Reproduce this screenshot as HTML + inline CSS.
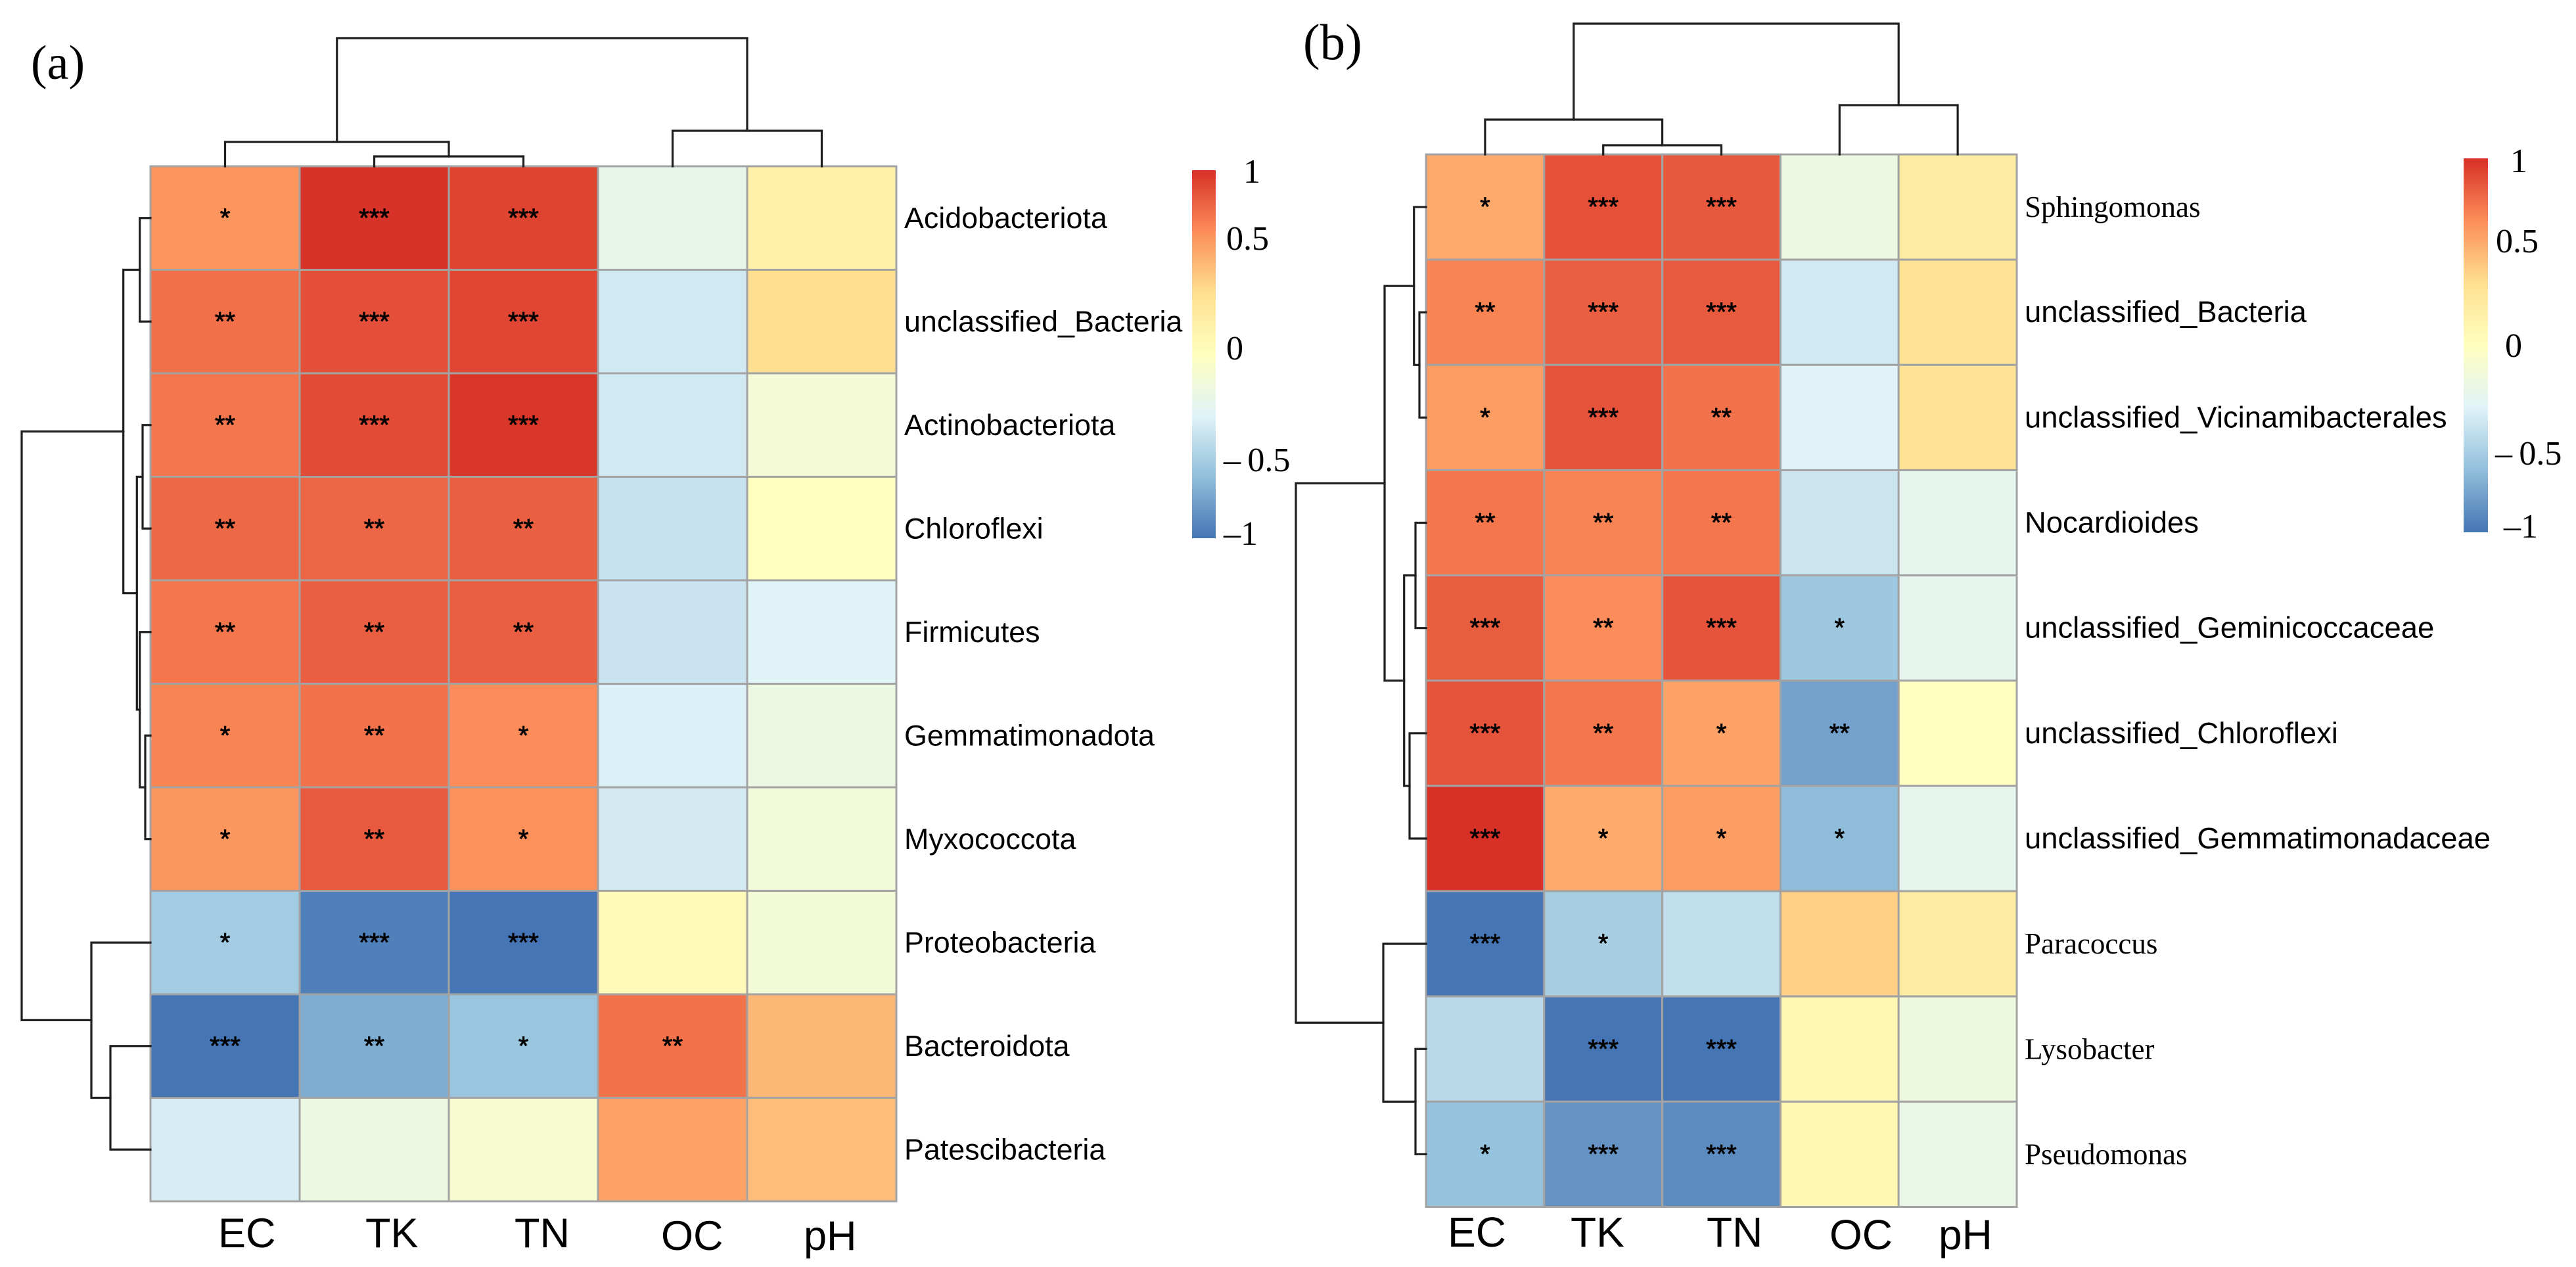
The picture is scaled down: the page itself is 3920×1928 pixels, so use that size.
<!DOCTYPE html>
<html lang="en">
<head>
<meta charset="utf-8">
<title>Correlation heatmaps (a) and (b)</title>
<style>
html,body{margin:0;padding:0;background:#fff;}
svg{display:block;}
text{fill:#000;}
.sans{font-family:"Liberation Sans",sans-serif;}
.serif{font-family:"Liberation Serif",serif;}
</style>
</head>
<body>
<svg id="figure" xmlns="http://www.w3.org/2000/svg" width="3920" height="1928" viewBox="0 0 3920 1928">
  <rect x="0" y="0" width="3920" height="1928" fill="#ffffff"/>
  <defs>
    <linearGradient id="legend-gradient" x1="0" y1="0" x2="0" y2="1"></linearGradient>
  </defs>
  <text class="serif" x="47" y="120" font-size="74">(a)</text>
  <text class="serif" x="1983" y="90" font-size="77">(b)</text>
</svg>
<script>
// ---------- Data ----------
const columnsA = ["EC", "TK", "TN", "OC", "pH"];
const rowsA = ["Acidobacteriota", "unclassified_Bacteria", "Actinobacteriota", "Chloroflexi", "Firmicutes", "Gemmatimonadota", "Myxococcota", "Proteobacteria", "Bacteroidota", "Patescibacteria"];
const valuesA = [
  [0.64, 0.99, 0.93, -0.25, 0.16],
  [0.77, 0.89, 0.92, -0.40, 0.33],
  [0.75, 0.90, 0.98, -0.40, -0.13],
  [0.80, 0.81, 0.83, -0.44, 0.00],
  [0.75, 0.83, 0.83, -0.43, -0.33],
  [0.70, 0.76, 0.67, -0.35, -0.20],
  [0.63, 0.85, 0.65, -0.39, -0.15],
  [-0.59, -0.95, -1.00, 0.05, -0.14],
  [-1.00, -0.75, -0.63, 0.76, 0.50],
  [-0.37, -0.20, -0.10, 0.58, 0.47]
];
const starsA = [
  [1, 3, 3, 0, 0],
  [2, 3, 3, 0, 0],
  [2, 3, 3, 0, 0],
  [2, 2, 2, 0, 0],
  [2, 2, 2, 0, 0],
  [1, 2, 1, 0, 0],
  [1, 2, 1, 0, 0],
  [1, 3, 3, 0, 0],
  [3, 2, 1, 2, 0],
  [0, 0, 0, 0, 0]
];
// hclust-style merges: negative = leaf number, positive = earlier merge number
const rowMergesA = [[-1, -2], [-3, -4], [-6, -7], [-5, 3], [2, 4], [1, 5], [-9, -10], [-8, 7], [6, 8]];
const rowHeightsA = [16.3, 12, 8, 16.3, 20.7, 41.3, 61, 90, 196];
const colMergesA = [[-2, -3], [-1, 1], [-4, -5], [2, 3]];
const colHeightsA = [15, 37, 54, 195];

const columnsB = ["EC", "TK", "TN", "OC", "pH"];
const rowsB = ["Sphingomonas", "unclassified_Bacteria", "unclassified_Vicinamibacterales", "Nocardioides", "unclassified_Geminicoccaceae", "unclassified_Chloroflexi", "unclassified_Gemmatimonadaceae", "Paracoccus", "Lysobacter", "Pseudomonas"];
const valuesB = [
  [0.55, 0.885, 0.857, -0.20, 0.20],
  [0.70, 0.83, 0.85, -0.40, 0.30],
  [0.60, 0.875, 0.76, -0.33, 0.30],
  [0.75, 0.70, 0.75, -0.42, -0.27],
  [0.84, 0.67, 0.87, -0.61, -0.27],
  [0.875, 0.75, 0.58, -0.80, 0.00],
  [1.00, 0.55, 0.60, -0.68, -0.27],
  [-1.00, -0.57, -0.47, 0.40, 0.20],
  [-0.50, -1.00, -1.00, 0.08, -0.19],
  [-0.65, -0.86, -0.90, 0.08, -0.23]
];
const starsB = [
  [1, 3, 3, 0, 0],
  [2, 3, 3, 0, 0],
  [1, 3, 2, 0, 0],
  [2, 2, 2, 0, 0],
  [3, 2, 3, 1, 0],
  [3, 2, 1, 2, 0],
  [3, 1, 1, 1, 0],
  [3, 1, 0, 0, 0],
  [0, 3, 3, 0, 0],
  [1, 3, 3, 0, 0]
];
const rowMergesB = [[-2, -3], [-1, 1], [-4, -5], [-6, -7], [3, 4], [2, 5], [-9, -10], [-8, 7], [6, 8]];
const rowHeightsB = [10, 18.3, 16, 25, 33.3, 63, 16, 65, 198];
const colMergesB = [[-2, -3], [-1, 1], [-4, -5], [2, 3]];
const colHeightsB = [14, 53, 75, 199];

const legendLabels = ["1", "0.5", "0", "\u2013\u20090.5", "\u20131"];
const paletteStops = ["#D73027", "#FC8D59", "#FEE090", "#FFFFBF", "#E0F3F8", "#91BFDB", "#4575B4"];

// ---------- Helpers ----------
const NS = "http://www.w3.org/2000/svg";
const svg = document.getElementById("figure");

function make(parent, tag, attrs, txt) {
  const node = document.createElementNS(NS, tag);
  for (const k in attrs) node.setAttribute(k, attrs[k]);
  if (txt !== undefined) node.textContent = txt;
  parent.appendChild(node);
  return node;
}
function hexToRgb(h) {
  return [parseInt(h.slice(1, 3), 16), parseInt(h.slice(3, 5), 16), parseInt(h.slice(5, 7), 16)];
}
function valueColor(v) {
  const clamped = Math.max(-1, Math.min(1, v));
  const pos = (1 - clamped) / 2 * (paletteStops.length - 1);
  const i = Math.min(Math.floor(pos), paletteStops.length - 2);
  const t = pos - i;
  const a = hexToRgb(paletteStops[i]);
  const b = hexToRgb(paletteStops[i + 1]);
  const c = a.map((x, n) => Math.round(x + (b[n] - x) * t));
  return "rgb(" + c.join(",") + ")";
}

const gradient = document.getElementById("legend-gradient");
paletteStops.forEach(function (col, i) {
  make(gradient, "stop", { offset: i / (paletteStops.length - 1), "stop-color": col });
});

// Draw a dendrogram through position and height scale functions
function drawDendrogram(group, merges, heights, leafPos, mapLine, panelId, axisName) {
  const done = [];
  function pos(node) { return node < 0 ? leafPos(-node - 1) : done[node - 1]; }
  function ht(node) { return node < 0 ? 0 : heights[node - 1]; }
  merges.forEach(function (m, i) {
    const p1 = pos(m[0]);
    const p2 = pos(m[1]);
    const h = heights[i];
    const d = mapLine(p1, ht(m[0]), p2, ht(m[1]), h);
    const link = make(group, "path", { d: d, fill: "none", stroke: "#1f1f1f", "stroke-width": 3.2, "stroke-linecap": "square" });
    
    
    done.push((p1 + p2) / 2);
  });
}

function drawPanel(p) {
  const group = make(svg, "g", {});
  
  

  const colW = (p.right - p.left) / p.columns.length;
  const rowH = (p.bottom - p.top) / p.rows.length;
  const colCenter = function (j) { return p.left + colW * (j + 0.5); };
  const rowCenter = function (i) { return p.top + rowH * (i + 0.5); };

  // Heatmap cells
  p.values.forEach(function (row, i) {
    row.forEach(function (v, j) {
      const cell = make(group, "rect", {
        x: p.left + colW * j, y: p.top + rowH * i, width: colW, height: rowH,
        fill: valueColor(v), stroke: "#a3a3a3", "stroke-width": 3
      });
      
      
    });
  });

  // Significance stars
  p.stars.forEach(function (row, i) {
    row.forEach(function (n, j) {
      if (!n) return;
      const star = make(group, "text", {
        class: "sans", x: colCenter(j), y: rowCenter(i) + 13,
        "font-size": 40, "text-anchor": "middle", stroke: "#000", "stroke-width": 0.8
      }, "*".repeat(n));
      
      
    });
  });

  // Row labels
  p.rows.forEach(function (name, i) {
    const serif = p.serifRows.indexOf(name) >= 0;
    const label = make(group, "text", {
      class: serif ? "serif" : "sans", x: p.rowLabelX, y: rowCenter(i) + 15,
      "font-size": serif ? 45 : p.rowFont
    }, name);
    
    
  });

  // Column labels
  p.columns.forEach(function (name, j) {
    const label = make(group, "text", {
      class: "sans", x: p.colLabelX[j], y: p.colLabelY[j], "font-size": p.colFont
    }, name);
    
    
  });

  // Dendrograms
  const rowX = function (h) { return p.left - h; };
  drawDendrogram(group, p.rowMerges, p.rowHeights, rowCenter, function (a, ha, b, hb, h) {
    return "M" + rowX(ha) + " " + a + "H" + rowX(h) + "V" + b + "H" + rowX(hb);
  }, p.id, "row");
  const colY = function (h) { return p.top - h; };
  drawDendrogram(group, p.colMerges, p.colHeights, colCenter, function (a, ha, b, hb, h) {
    return "M" + a + " " + colY(ha) + "V" + colY(h) + "H" + b + "V" + colY(hb);
  }, p.id, "col");

  // Colour legend
  const bar = make(group, "rect", {
    x: p.legend.x, y: p.legend.y, width: p.legend.w, height: p.legend.h, fill: "url(#legend-gradient)"
  });
  
  
  legendLabels.forEach(function (t, i) {
    const tick = make(group, "text", {
      class: "serif", x: p.legend.labelX[i], y: p.legend.labelY[i], "font-size": 52
    }, t);
    
    
  });
}

drawPanel({
  id: "a", columns: columnsA, rows: rowsA, values: valuesA, stars: starsA,
  rowMerges: rowMergesA, rowHeights: rowHeightsA, colMerges: colMergesA, colHeights: colHeightsA,
  left: 229, right: 1364, top: 253, bottom: 1828,
  rowLabelX: 1376, rowFont: 44.8, serifRows: [],
  colFont: 63, colLabelX: [332, 556, 783, 1006, 1223], colLabelY: [1898, 1898, 1898, 1902, 1902],
  legend: { x: 1814, y: 259, w: 36, h: 560,
    labelX: [1892, 1866, 1866, 1862, 1862], labelY: [278, 380, 547, 717, 829] }
});
drawPanel({
  id: "b", columns: columnsB, rows: rowsB, values: valuesB, stars: starsB,
  rowMerges: rowMergesB, rowHeights: rowHeightsB, colMerges: colMergesB, colHeights: colHeightsB,
  left: 2170, right: 3069, top: 235, bottom: 1836.5,
  rowLabelX: 3081, rowFont: 45.4, serifRows: ["Sphingomonas", "Paracoccus", "Lysobacter", "Pseudomonas"],
  colFont: 64, colLabelX: [2203, 2390, 2597, 2784, 2950], colLabelY: [1897, 1897, 1897, 1901, 1901],
  legend: { x: 3749, y: 241, w: 37, h: 569,
    labelX: [3820, 3798, 3812, 3797, 3810], labelY: [262, 384, 543, 707, 818] }
});
</script>
</body>
</html>
